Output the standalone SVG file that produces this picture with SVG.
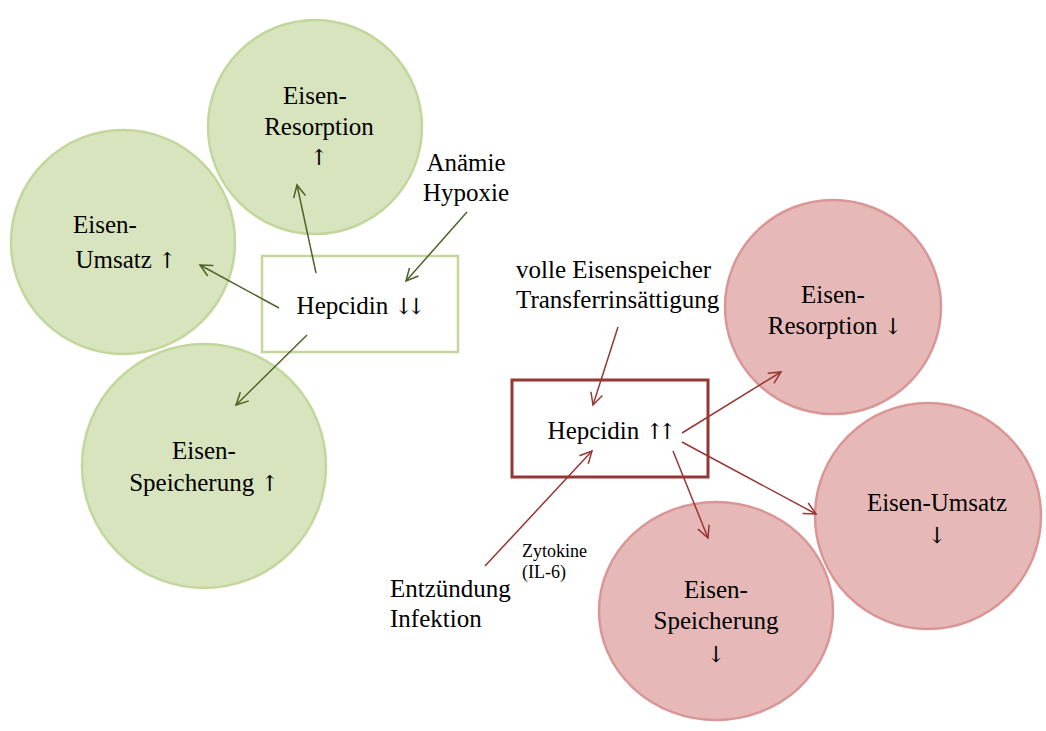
<svg xmlns="http://www.w3.org/2000/svg" width="1046" height="731" viewBox="0 0 1046 731">
<style>
text{font-family:"Liberation Serif","Times New Roman",serif;font-size:25px;fill:#000;text-anchor:middle}
.a{font-family:"DejaVu Serif","DejaVu Sans",serif;font-size:22px}
.d{letter-spacing:-6px}
.g{fill:#d7e4bd;stroke:#c3d69b;stroke-width:2.5}
.r{fill:#e6b9b8;stroke:#d99694;stroke-width:2.5}
.cg{stroke:#4f6228;stroke-width:1.5;fill:none;marker-end:url(#ag)}
.cr{stroke:#953735;stroke-width:1.5;fill:none;marker-end:url(#ar)}
.l{text-anchor:start}
.s{font-size:18px}
</style>
<defs>
<marker id="ag" markerUnits="userSpaceOnUse" markerWidth="16" markerHeight="16" refX="14" refY="8" orient="auto"><path d="M2,2 L14,8 L2,14" fill="none" stroke="#4f6228" stroke-width="1.5"/></marker>
<marker id="ar" markerUnits="userSpaceOnUse" markerWidth="16" markerHeight="16" refX="14" refY="8" orient="auto"><path d="M2,2 L14,8 L2,14" fill="none" stroke="#953735" stroke-width="1.5"/></marker>
</defs>
<rect width="1046" height="731" fill="#fff"/>
<g id="g-resorption"><circle class="g" cx="315" cy="127" r="107"/><text x="315" y="104">Eisen-</text><text x="319" y="135">Resorption</text><text class="a" x="319" y="165">↑</text></g>
<g id="g-umsatz"><circle class="g" cx="123" cy="242" r="112"/><text x="105" y="233">Eisen-</text><text x="126" y="268">Umsatz <tspan class="a">↑</tspan></text></g>
<g id="g-speicherung"><circle class="g" cx="204" cy="466" r="122"/><text x="204" y="459">Eisen-</text><text x="204" y="491">Speicherung <tspan class="a">↑</tspan></text></g>
<g id="g-hepcidin"><rect x="262" y="256" width="196" height="96" fill="#fff" stroke="#c3d69b" stroke-width="2.5"/><text x="358" y="314">Hepcidin <tspan class="a d">↓↓</tspan></text></g>
<g id="t-anaemie"><text x="466" y="171">Anämie</text><text x="466" y="201">Hypoxie</text></g>
<g id="r-resorption"><ellipse class="r" cx="833" cy="307" rx="108" ry="107"/><text x="833" y="303">Eisen-</text><text x="835" y="334">Resorption <tspan class="a">↓</tspan></text></g>
<g id="r-umsatz"><circle class="r" cx="928" cy="516" r="113"/><text x="937" y="511">Eisen-Umsatz</text><text class="a" x="937" y="543">↓</text></g>
<g id="r-speicherung"><ellipse class="r" cx="716" cy="611" rx="117" ry="109"/><text x="716" y="598">Eisen-</text><text x="716" y="629">Speicherung</text><text class="a" x="716" y="662">↓</text></g>
<g id="r-hepcidin"><rect x="512" y="380" width="196" height="97" fill="#fff" stroke="#953735" stroke-width="3"/><text x="609" y="439">Hepcidin <tspan class="a d">↑↑</tspan></text></g>
<g id="t-volle"><text class="l" x="516" y="278">volle Eisenspeicher</text><text class="l" x="516" y="308">Transferrinsättigung</text></g>
<g id="t-zytokine"><text class="l s" x="522" y="557">Zytokine</text><text class="l s" x="522" y="578">(IL-6)</text></g>
<g id="t-entz"><text class="l" x="390" y="597">Entzündung</text><text class="l" x="390" y="627">Infektion</text></g>
<g id="connectors">
<line class="cg" x1="316" y1="273" x2="297" y2="185"/>
<line class="cg" x1="279" y1="308" x2="200" y2="265"/>
<line class="cg" x1="307" y1="335" x2="236" y2="405"/>
<line class="cg" x1="467" y1="212" x2="406" y2="281"/>
<line class="cr" x1="618" y1="327" x2="593" y2="405"/>
<line class="cr" x1="485" y1="566" x2="592" y2="451"/>
<line class="cr" x1="682" y1="433" x2="781" y2="372"/>
<line class="cr" x1="682" y1="442" x2="816" y2="514"/>
<line class="cr" x1="673" y1="451" x2="708" y2="538"/>
</g>
</svg>
